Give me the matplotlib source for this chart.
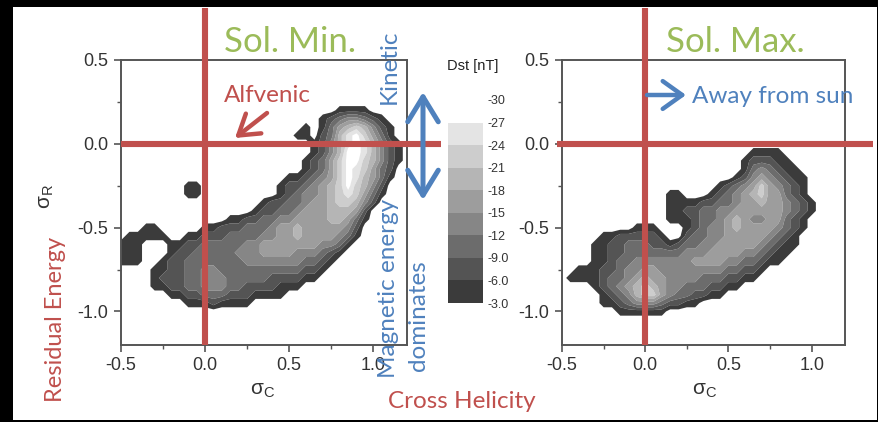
import numpy as np
import matplotlib
matplotlib.use('Agg')
import matplotlib.pyplot as plt
from matplotlib.patches import Rectangle, FancyArrowPatch
from matplotlib.ticker import MultipleLocator, FormatStrFormatter

plt.rcParams['font.family'] = ['Liberation Sans', 'DejaVu Sans']
plt.rcParams['axes.unicode_minus'] = False

# sampling grid of the occurrence maps (sigma_c across, sigma_r down)
sigma_c = np.round(np.arange(-0.5, 1.2001, 0.05), 2)
sigma_r = np.round(np.arange(0.3, -1.1001, -0.05), 2)

# Dst band index per grid cell: '.' = no data, 1 = -3..-6 nT ... 9 = below -27 nT
# one string per sigma_r row (top to bottom), spaces only group the columns
sol_min = [
    '..... ..... ..... ..... ..... ..... .....',
    '..... ..... ..... ..... ..... ..... .....',
    '..... ..... ..... ..... ..... .1111 .....',
    '..... ..... ..... ..... ....1 23443 21...',
    '..... ..... ..... ..... ..1.1 35676 421..',
    '..... ..... ..... ..... .11.2 36897 531..',
    '..... ..... ..... ..... ...12 46898 6421.',
    '..... ..... ..... ..... ...12 46998 6421.',
    '..... ..... ..... ..... ..123 57997 6421.',
    '..... ..... ..... ..... ..123 57987 532..',
    '..... ..... ..... ..... 11234 57986 531..',
    '..... ...11 ..... ....1 22345 67976 42...',
    '..... ...11 ..... ....1 23445 67875 31...',
    '..... ..... ..... ..122 33455 67764 2....',
    '..... ..... ..... .1223 34555 66652 .....',
    '..... ..... ...11 22334 45555 66531 .....',
    '...11 ..... 11222 33345 56555 5542. .....',
    '.1111 1..11 22233 33445 56555 5431. .....',
    '111.. .1122 33333 44555 55554 431.. .....',
    '111.. .1223 33334 44555 54443 21... .....',
    '111.. 12233 33333 44444 44332 1.... .....',
    '....1 12233 44333 33333 33221 ..... .....',
    '....1 22233 44433 33322 2211. ..... .....',
    '....1 12233 44433 22221 11... ..... .....',
    '..... .1122 33322 21111 ..... ..... .....',
    '..... ...11 12111 1.... ..... ..... .....',
    '..... ..... ..... ..... ..... ..... .....',
    '..... ..... ..... ..... ..... ..... .....',
    '..... ..... ..... ..... ..... ..... .....',
]

sol_max = [
    '..... ..... ..... ..... ..... ..... .....',
    '..... ..... ..... ..... ..... ..... .....',
    '..... ..... ..... ..... ..... ..... .....',
    '..... ..... ..... ..... ..... ..... .....',
    '..... ..... ..... ..... ..... ..... .....',
    '..... ..... ..... ..... ..... ..... .....',
    '..... ..... ..... ..... ..... ..... .....',
    '..... ..... ..... ..... ...11 11... .....',
    '..... ..... ..... ..... ..122 211.. .....',
    '..... ..... ..... ..... ..134 3211. .....',
    '..... ..... ..... ..... .1245 43211 .....',
    '..... ..... ..... ....1 23457 54321 .....',
    '..... ..... ...11 ...12 34567 55321 .....',
    '..... ..... ...11 11223 34556 55432 1....',
    '..... ..... ...11 22334 45555 55432 1....',
    '..... ..... ...11 12334 56544 55321 .....',
    '..... ....1 11... 12344 56555 54321 .....',
    '..... 11222 221.. 23344 55555 4321. .....',
    '....1 12233 32212 33445 55554 3211. .....',
    '....1 12233 33333 44455 55443 211.. .....',
    '....1 12334 44444 45555 44332 11... .....',
    '..111 22344 55444 44444 33221 ..... .....',
    '.1111 23345 65544 44333 2211. ..... .....',
    '....1 23456 76544 33322 11... ..... .....',
    '..... 12346 77543 32211 ..... ..... .....',
    '..... 11234 44322 11... ..... ..... .....',
    '..... ..111 111.. ..... ..... ..... .....',
    '..... ..... ..... ..... ..... ..... .....',
    '..... ..... ..... ..... ..... ..... .....',
]

dst_levels = [-30, -27, -24, -21, -18, -15, -12, -9, -6, -3]
dst_labels = ['-30', '-27', '-24', '-21', '-18', '-15', '-12', '-9.0', '-6.0', '-3.0']
band_colors = ['#ffffff', '#e4e4e4', '#cdcdcd', '#b5b5b5', '#9d9d9d',
               '#868686', '#6c6c6c', '#545454', '#3b3b3b']


def to_dst(rows):
    # band index -> mid-band Dst value, empty cells sit just above -3 nT
    grid = []
    for r in rows:
        r = r.replace(' ', '')
        grid.append([-3 * (0 if c == '.' else int(c)) - 1.5 for c in r])
    return np.array(grid)


W, H = 879, 422


def fx(x):
    return x / W


def fy(y):
    return 1 - y / H


red = '#c0504d'
green = '#9bbb59'
blue = '#4f81bd'
callout = ['Lato', 'DejaVu Sans']

fig = plt.figure(figsize=(8.79, 4.22), dpi=100, facecolor='black')
fig.patches.append(Rectangle((fx(13), fy(420)), fx(877) - fx(13), fy(7) - fy(420),
                             transform=fig.transFigure, facecolor='white',
                             edgecolor='none', zorder=-10))

ax1 = fig.add_axes([fx(121), fy(345), fx(407) - fx(121), fy(60) - fy(345)])
ax2 = fig.add_axes([fx(562), fy(345), fx(845) - fx(562), fy(60) - fy(345)])

cs = None
for ax, rows in [(ax1, sol_min), (ax2, sol_max)]:
    cs = ax.contourf(sigma_c, sigma_r, to_dst(rows), levels=dst_levels,
                     colors=band_colors, antialiased=True, zorder=1)
    ax.set_xlim(-0.5, 1.2)
    ax.set_ylim(-1.2, 0.5)
    ax.set_xticks([-0.5, 0.0, 0.5, 1.0])
    ax.set_yticks([-1.0, -0.5, 0.0, 0.5])
    ax.xaxis.set_minor_locator(MultipleLocator(0.25))
    ax.yaxis.set_minor_locator(MultipleLocator(0.25))
    ax.xaxis.set_major_formatter(FormatStrFormatter('%.1f'))
    ax.yaxis.set_major_formatter(FormatStrFormatter('%.1f'))
    ax.tick_params(which='major', direction='out', length=5, width=1.2,
                   color='#555555', labelsize=13, labelcolor='#333333', pad=4)
    ax.tick_params(which='minor', direction='out', length=3, width=1.0,
                   color='#555555')
    for sp in ax.spines.values():
        sp.set_color('#555555')
        sp.set_linewidth(1.4)

# quadrant lines through sigma_c = 0 and sigma_r = 0
ax1.plot([0, 0], [-1.2, 0.81], color=red, lw=4.4, clip_on=False, zorder=5,
         solid_capstyle='butt')
ax1.plot([-0.5, 1.405], [0, 0], color=red, lw=4.4, clip_on=False, zorder=5,
         solid_capstyle='butt')
ax2.plot([0, 0], [-1.2, 0.81], color=red, lw=4.4, clip_on=False, zorder=5,
         solid_capstyle='butt')
ax2.plot([-0.53, 1.369], [0, 0], color=red, lw=4.4, clip_on=False, zorder=5,
         solid_capstyle='butt')

# Dst colour scale
cax = fig.add_axes([fx(448), fy(303), fx(483) - fx(448), fy(100) - fy(303)])
cb = fig.colorbar(cs, cax=cax, ticks=dst_levels)
cb.set_ticklabels(dst_labels)
cb.outline.set_visible(False)
cax.invert_yaxis()
cax.tick_params(length=0, labelsize=9, pad=3, labelcolor='#333333')
fig.text(fx(447), fy(70), 'Dst [nT]', fontsize=10.5, color='#222222',
         ha='left', va='baseline')

# axis symbols
fig.text(fx(47), fy(197), r'$\mathregular{\sigma_R}$', fontsize=15,
         rotation=90, ha='center', va='center', color='#333333')
fig.text(fx(263), fy(391), r'$\mathregular{\sigma_C}$', fontsize=15,
         ha='center', va='center', color='#333333')
fig.text(fx(705), fy(391), r'$\mathregular{\sigma_C}$', fontsize=15,
         ha='center', va='center', color='#333333')

# panel titles and annotations
fig.text(fx(224), fy(52), 'Sol. Min.', family=callout, fontsize=25,
         color=green, ha='left', va='baseline')
fig.text(fx(666), fy(52), 'Sol. Max.', family=callout, fontsize=25,
         color=green, ha='left', va='baseline')
fig.text(fx(224), fy(102), 'Alfvenic', family=callout, fontsize=17.5,
         color=red, ha='left', va='baseline')
fig.text(fx(389), fy(67), 'Kinetic', family=callout, fontsize=17.5,
         color=blue, rotation=90, ha='center', va='center')
fig.text(fx(389), fy(288), 'Magnetic energy', family=callout, fontsize=17.5,
         color=blue, rotation=90, ha='center', va='center')
fig.text(fx(419), fy(316), 'dominates', family=callout, fontsize=17.5,
         color=blue, rotation=90, ha='center', va='center')
fig.text(fx(56), fy(319), 'Residual Energy', family=callout, fontsize=17,
         color=red, rotation=90, ha='center', va='center')
fig.text(fx(388), fy(408), 'Cross Helicity', family=callout, fontsize=17.5,
         color=red, ha='left', va='baseline')
fig.text(fx(692), fy(103), 'Away from sun', family=callout, fontsize=17.5,
         color=blue, ha='left', va='baseline')

# arrows
fig.add_artist(FancyArrowPatch((fx(423), fy(92)), (fx(423), fy(200)),
                               transform=fig.transFigure, color=blue, lw=3.6,
                               arrowstyle='<->,head_length=0.9,head_width=0.55',
                               mutation_scale=20, shrinkA=0, shrinkB=0, zorder=6))
fig.add_artist(FancyArrowPatch((fx(267), fy(113)), (fx(235), fy(138)),
                               transform=fig.transFigure, color=red, lw=3.2,
                               arrowstyle='->,head_length=0.7,head_width=0.45',
                               mutation_scale=20, shrinkA=0, shrinkB=0, zorder=6))
fig.add_artist(FancyArrowPatch((fx(647), fy(95)), (fx(686), fy(95)),
                               transform=fig.transFigure, color=blue, lw=3.2,
                               arrowstyle='->,head_length=0.7,head_width=0.5',
                               mutation_scale=20, shrinkA=0, shrinkB=0, zorder=6))

fig.savefig('out.png', dpi=100, facecolor='black')
